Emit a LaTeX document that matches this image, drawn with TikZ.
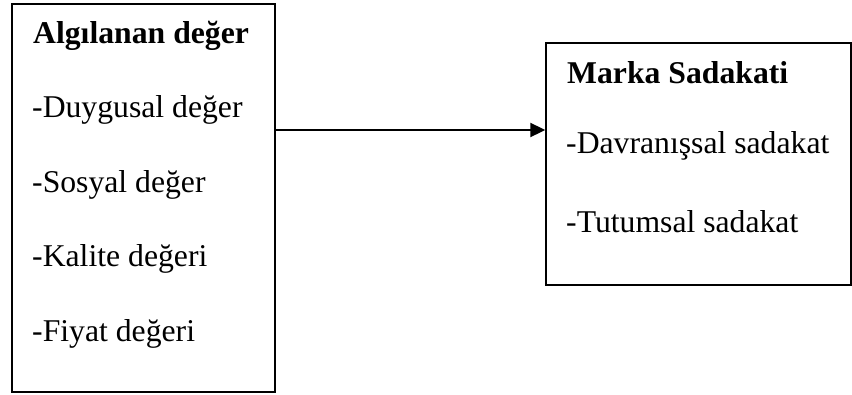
\documentclass[tikz,border=0pt]{standalone}
\usepackage{fontspec}
\setmainfont{Liberation Serif}
\usetikzlibrary{positioning,arrows.meta}

\begin{document}
\begin{tikzpicture}[x=1pt, y=-1pt]
  \tikzstyle{box} = [draw, rectangle, inner sep=0pt, line width=1.4pt]
  \tikzstyle{word} = [font=\fontsize{31.7}{38}\selectfont, anchor=base west, inner sep=0pt]
  \tikzstyle{head} = [word, font=\fontsize{31.7}{38}\selectfont\bfseries]
  \useasboundingbox (0,0) rectangle (852,394);
  \node (value) [box, minimum width=263pt, minimum height=388pt] at (143.5,198) {};
  \node (loyalty) [box, minimum width=305pt, minimum height=242pt] at (698.5,164) {};
  % left box
  \node (v0) [head] at (33,43) {Algılanan değer};
  \node (v1) [word] at (32,117) {-Duygusal değer};
  \node (v2) [word] at (32,192) {-Sosyal değer};
  \node (v3) [word] at (32,266) {-Kalite değeri};
  \node (v4) [word] at (32,341) {-Fiyat değeri};
  % right box
  \node (l0) [head] at (567,83) {Marka Sadakati};
  \node (l1) [word] at (566,153) {-Davranışsal sadakat};
  \node (l2) [word] at (566,232) {-Tutumsal sadakat};
  \coordinate (mid) at (0,130);
  \draw[-{Triangle[length=15pt,width=14pt]}, line width=2pt] (value.east |- mid) -- (loyalty.west |- mid);
\end{tikzpicture}
\end{document}
